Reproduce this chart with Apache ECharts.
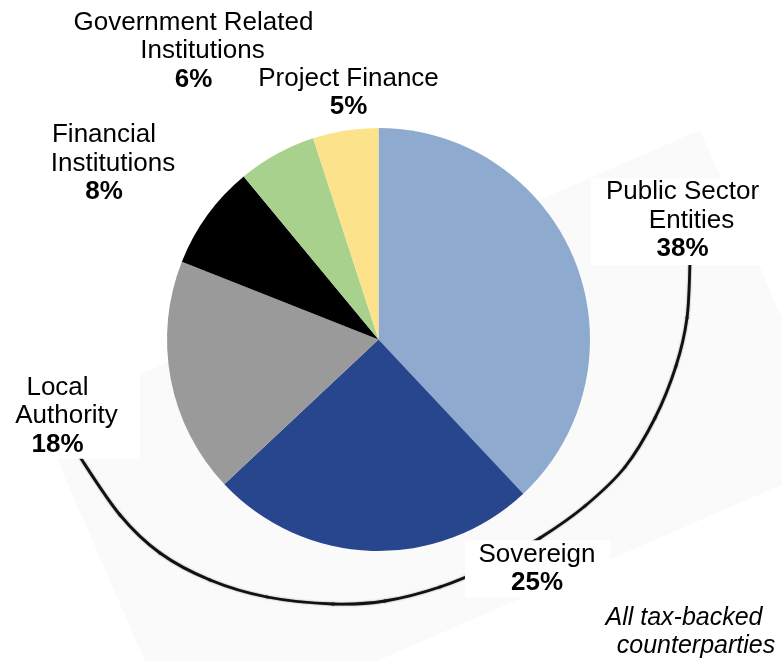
<!DOCTYPE html>
<html>
<head>
<meta charset="utf-8">
<title>Tax-backed counterparties</title>
<script src="https://cdn.jsdelivr.net/npm/echarts@6/dist/echarts.min.js"></script>
<style>
  html, body { margin: 0; padding: 0; background: #ffffff; }
  #chart { width: 782px; height: 661px; }
</style>
</head>
<body>
<div id="chart"></div>
<script>
// ---- data ----
const categories = [
  'Public Sector\nEntities',
  'Sovereign',
  'Local\nAuthority',
  'Financial\nInstitutions',
  'Government Related\nInstitutions',
  'Project Finance'
];
const shares = [38, 25, 18, 8, 6, 5];
const sliceColors = ['#8EAACE', '#28468E', '#9A9A9A', '#000000', '#A9D18E', '#FDE28C'];
const noteLines = ['All tax-backed', 'counterparties'];

// ---- layout ----
const FONT = '"Liberation Sans", Arial, Helvetica, sans-serif';
const pieCenter = [378.5, 339.5];
const pieRadius = 211.5;

// label box centres (px) and box padding, in slice order
const labelBoxes = [
  { x: 676.5, y: 221.5, padding: [0, 3, 1.5, 15], bg: '#ffffff' },
  { x: 537.5, y: 568.7, padding: [0, 14.5, 0, 13.5], bg: '#ffffff' },
  { x: 66.5,  y: 416,   padding: [0, 22, 0, 4], bg: '#ffffff' },
  { x: 104,   y: 163.5, padding: 0, bg: null },
  { x: 193.5, y: 51,    padding: 0, bg: null },
  { x: 348.5, y: 93,    padding: 0, bg: null }
];

// faint backdrop panel behind the chart (tilted)
const panelCorners = [[39, 418], [700, 130], [843, 458], [182, 746]];

// guide points of the bracket curve wrapping the tax-backed slices
const bracketCurve = [
  [690, 250], [690, 262], [687, 318], [676, 366], [655, 418], [625, 467], [585, 506],
  [540, 538], [490, 566], [440, 587], [385, 601], [333, 604], [267, 597],
  [210, 580], [160, 553], [120, 515], [80, 457], [74, 445]
];

const curveStyle = {
  stroke: '#111111',
  lineWidth: 2.8,
  fill: null,
  lineCap: 'round',
  shadowBlur: 2,
  shadowColor: 'rgba(0,0,0,0.45)'
};

// Catmull-Rom spline through the guide points, one cubic segment per span
function splineSegments(pts) {
  const segs = [];
  for (let i = 1; i < pts.length - 2; i++) {
    const p0 = pts[i - 1], p1 = pts[i], p2 = pts[i + 1], p3 = pts[i + 2];
    segs.push({
      type: 'bezierCurve',
      silent: true,
      shape: {
        x1: p1[0], y1: p1[1],
        cpx1: p1[0] + (p2[0] - p0[0]) / 6, cpy1: p1[1] + (p2[1] - p0[1]) / 6,
        cpx2: p2[0] - (p3[0] - p1[0]) / 6, cpy2: p2[1] - (p3[1] - p1[1]) / 6,
        x2: p2[0], y2: p2[1]
      },
      style: curveStyle
    });
  }
  return segs;
}

const pieData = categories.map(function (name, i) {
  const box = labelBoxes[i];
  const lbl = { padding: box.padding };
  if (box.bg) lbl.backgroundColor = box.bg;
  return {
    name: name,
    value: shares[i],
    itemStyle: { color: sliceColors[i] },
    label: lbl
  };
});

const textBase = { fontFamily: FONT, fontSize: 26, color: '#000000', lineHeight: 28.5 };

const chart = echarts.init(document.getElementById('chart'), null, { renderer: 'canvas' });

chart.setOption({
  animation: false,
  backgroundColor: '#ffffff',
  graphic: {
    elements: [
      {
        type: 'polygon',
        z: 0,
        silent: true,
        shape: { points: panelCorners },
        style: { fill: '#fafafa', stroke: null }
      },
      {
        type: 'group',
        z: 0,
        silent: true,
        children: splineSegments(bracketCurve)
      },
      {
        type: 'text',
        z: 0,
        silent: true,
        x: 684,
        y: 632,
        style: {
          text: '{a|' + noteLines[0] + '}\n{b|' + noteLines[1] + '}',
          align: 'center',
          verticalAlign: 'middle',
          rich: {
            a: { fontFamily: FONT, fontSize: 25, fontStyle: 'italic', fill: '#000000', lineHeight: 28 },
            b: { fontFamily: FONT, fontSize: 25, fontStyle: 'italic', fill: '#000000', lineHeight: 28, padding: [0, 0, 0, 24] }
          }
        }
      }
    ]
  },
  series: [
    {
      type: 'pie',
      center: pieCenter,
      radius: pieRadius,
      startAngle: 90,
      clockwise: true,
      silent: true,
      avoidLabelOverlap: false,
      itemStyle: { borderWidth: 0 },
      emphasis: { disabled: true },
      labelLine: { show: false },
      label: {
        show: true,
        position: 'outside',
        formatter: function (p) {
          const parts = p.name.split('\n');
          if (parts.length === 2) {
            return '{n|' + parts[0] + '}\n{s|' + parts[1] + '}\n{v|' + p.value + '%}';
          }
          return '{n|' + p.name + '}\n{v|' + p.value + '%}';
        },
        rich: {
          n: Object.assign({}, textBase),
          s: Object.assign({}, textBase, { padding: [0, 0, 0, 18] }),
          v: Object.assign({}, textBase, { fontWeight: 'bold' })
        }
      },
      labelLayout: function (params) {
        const b = labelBoxes[params.dataIndex];
        return { x: b.x, y: b.y, align: 'center', verticalAlign: 'middle', hideOverlap: false, moveOverlap: null };
      },
      data: pieData
    }
  ]
});
</script>
</body>
</html>
